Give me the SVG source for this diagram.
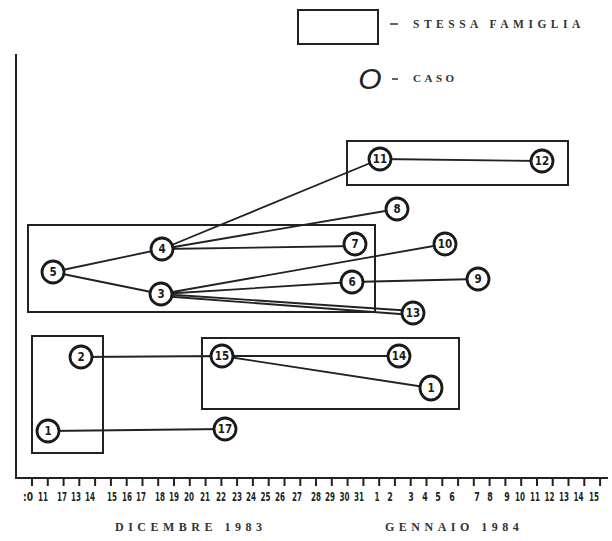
<svg xmlns="http://www.w3.org/2000/svg" width="612" height="541" viewBox="0 0 612 541">
<style>
.ln{stroke:#222;stroke-width:1.8;fill:none}
.box{stroke:#222;stroke-width:2;fill:none}
.ax{stroke:#222;stroke-width:2;fill:none}
.nd ellipse{fill:#fff;stroke:#1a1a1a;stroke-width:2.8}
.nd text{font-family:"DejaVu Sans Condensed","Liberation Sans",sans-serif;font-weight:bold;font-size:11.5px;fill:#1a1a1a;text-anchor:middle}
.tk{font-family:"DejaVu Sans Condensed","Liberation Sans",sans-serif;font-weight:bold;font-size:12px;fill:#222;text-anchor:middle}
.cap{font-family:"Liberation Serif",serif;font-weight:bold;fill:#333}
</style>
<rect width="612" height="541" fill="#fff"/>
<g id="legend">
<rect class="box" x="298" y="10" width="80" height="34"/>
<path d="M390 24H398M392 79H398" stroke="#333" stroke-width="1.5"/>
<text class="cap" x="413" y="28" font-size="11.5" letter-spacing="4.5">STESSA FAMIGLIA</text>
<text x="370" y="89" font-family="Liberation Sans,sans-serif" font-style="italic" font-size="30" fill="#222" text-anchor="middle">O</text>
<text class="cap" x="413" y="82" font-size="11" letter-spacing="3.5">CASO</text>
</g>
<g id="axes">
<path class="ax" d="M16 54V478H608"/>
<path class="ax" d="M32 478v8M47.8 478v8M63.6 478v8M79.3 478v8M95.1 478v8M110.9 478v8M126.7 478v8M142.5 478v8M158.2 478v8M174 478v8M189.8 478v8M205.6 478v8M221.4 478v8M237.1 478v8M252.9 478v8M268.7 478v8M284.5 478v8M300.3 478v8M316 478v8M331.8 478v8M347.6 478v8M363.4 478v8M379.2 478v8M394.9 478v8M410.7 478v8M426.5 478v8M442.3 478v8M458.1 478v8M473.8 478v8M489.6 478v8M505.4 478v8M521.2 478v8M537 478v8M552.7 478v8M568.5 478v8M584.3 478v8M600.1 478v8"/>
<g class="tk">
<text x="28" y="501" textLength="10" lengthAdjust="spacingAndGlyphs">:0</text><text x="43" y="501" textLength="10" lengthAdjust="spacingAndGlyphs">11</text><text x="62" y="501" textLength="10" lengthAdjust="spacingAndGlyphs">17</text><text x="76" y="501" textLength="10" lengthAdjust="spacingAndGlyphs">13</text><text x="90" y="501" textLength="10" lengthAdjust="spacingAndGlyphs">14</text><text x="112" y="501" textLength="10" lengthAdjust="spacingAndGlyphs">15</text><text x="127" y="501" textLength="10" lengthAdjust="spacingAndGlyphs">16</text><text x="141" y="501" textLength="10" lengthAdjust="spacingAndGlyphs">17</text><text x="160" y="501" textLength="10" lengthAdjust="spacingAndGlyphs">18</text><text x="174" y="501" textLength="10" lengthAdjust="spacingAndGlyphs">19</text><text x="189" y="501" textLength="10" lengthAdjust="spacingAndGlyphs">20</text><text x="205" y="501" textLength="10" lengthAdjust="spacingAndGlyphs">21</text><text x="221" y="501" textLength="10" lengthAdjust="spacingAndGlyphs">22</text><text x="237" y="501" textLength="10" lengthAdjust="spacingAndGlyphs">23</text><text x="251" y="501" textLength="10" lengthAdjust="spacingAndGlyphs">24</text><text x="265.5" y="501" textLength="10" lengthAdjust="spacingAndGlyphs">25</text><text x="280" y="501" textLength="10" lengthAdjust="spacingAndGlyphs">26</text><text x="297" y="501" textLength="10" lengthAdjust="spacingAndGlyphs">27</text><text x="316" y="501" textLength="10" lengthAdjust="spacingAndGlyphs">28</text><text x="330" y="501" textLength="10" lengthAdjust="spacingAndGlyphs">29</text><text x="344.5" y="501" textLength="10" lengthAdjust="spacingAndGlyphs">30</text><text x="359" y="501" textLength="10" lengthAdjust="spacingAndGlyphs">31</text><text x="377" y="501" textLength="5" lengthAdjust="spacingAndGlyphs">1</text><text x="390" y="501" textLength="5.5" lengthAdjust="spacingAndGlyphs">2</text><text x="411" y="501" textLength="5.5" lengthAdjust="spacingAndGlyphs">3</text><text x="425" y="501" textLength="5.5" lengthAdjust="spacingAndGlyphs">4</text><text x="438" y="501" textLength="5.5" lengthAdjust="spacingAndGlyphs">5</text><text x="452" y="501" textLength="5.5" lengthAdjust="spacingAndGlyphs">6</text><text x="477" y="501" textLength="5.5" lengthAdjust="spacingAndGlyphs">7</text><text x="490" y="501" textLength="5.5" lengthAdjust="spacingAndGlyphs">8</text><text x="507" y="501" textLength="5.5" lengthAdjust="spacingAndGlyphs">9</text><text x="520" y="501" textLength="10" lengthAdjust="spacingAndGlyphs">10</text><text x="535" y="501" textLength="10" lengthAdjust="spacingAndGlyphs">11</text><text x="549.5" y="501" textLength="10" lengthAdjust="spacingAndGlyphs">12</text><text x="564" y="501" textLength="10" lengthAdjust="spacingAndGlyphs">13</text><text x="578.5" y="501" textLength="10" lengthAdjust="spacingAndGlyphs">14</text><text x="594" y="501" textLength="10" lengthAdjust="spacingAndGlyphs">15</text>
</g>
<text class="cap" x="115" y="531" font-size="12" letter-spacing="4.5">DICEMBRE 1983</text>
<text class="cap" x="385" y="531" font-size="12" letter-spacing="4.5">GENNAIO 1984</text>
</g>
<g id="families">
<rect class="box" x="347" y="141" width="221" height="44"/>
<rect class="box" x="28" y="225" width="347" height="87"/>
<rect class="box" x="32" y="336" width="71" height="117"/>
<rect class="box" x="202" y="338" width="257" height="71"/>
</g>
<g id="connectors">
<path class="ln" d="M53 272L162 249M53 272L161 294"/>
<path class="ln" d="M162 249L380 159M162 249L397 209M162 249L355 246"/>
<path class="ln" d="M161 294L445 244M161 294L352 282M161 294L413 311M161 296L413 315"/>
<path class="ln" d="M380 159L542 161M352 282L478 279"/>
<path class="ln" d="M81 357L222 356M222 356L399 356M222 356L431 388M48 431L225 429"/>
</g>
<g id="n5" class="nd"><ellipse cx="53" cy="272" rx="11" ry="11"/><text x="53" y="276">5</text></g>
<g id="n4" class="nd"><ellipse cx="162" cy="249" rx="11" ry="11"/><text x="162" y="253">4</text></g>
<g id="n3" class="nd"><ellipse cx="161" cy="294" rx="11" ry="11"/><text x="161" y="298">3</text></g>
<g id="n11" class="nd"><ellipse cx="380" cy="159" rx="11" ry="11"/><text x="380" y="163">11</text></g>
<g id="n12" class="nd"><ellipse cx="542" cy="161" rx="11" ry="11"/><text x="542" y="165">12</text></g>
<g id="n8" class="nd"><ellipse cx="397" cy="209" rx="11" ry="11"/><text x="397" y="213">8</text></g>
<g id="n7" class="nd"><ellipse cx="355" cy="244" rx="11" ry="11"/><text x="355" y="248">7</text></g>
<g id="n10" class="nd"><ellipse cx="445" cy="244" rx="11" ry="11"/><text x="445" y="248">10</text></g>
<g id="n6" class="nd"><ellipse cx="352" cy="282" rx="11" ry="11"/><text x="352" y="286">6</text></g>
<g id="n9" class="nd"><ellipse cx="478" cy="279" rx="11" ry="11"/><text x="478" y="283">9</text></g>
<g id="n13" class="nd"><ellipse cx="413" cy="313" rx="11" ry="11"/><text x="413" y="317">13</text></g>
<g id="n2" class="nd"><ellipse cx="81" cy="357" rx="11" ry="11"/><text x="81" y="361">2</text></g>
<g id="n15" class="nd"><ellipse cx="222" cy="356" rx="11" ry="11"/><text x="222" y="360">15</text></g>
<g id="n14" class="nd"><ellipse cx="399" cy="356" rx="11" ry="11"/><text x="399" y="360">14</text></g>
<g id="n16" class="nd"><ellipse cx="431" cy="388" rx="11" ry="12"/><text x="431" y="392">1</text></g>
<g id="n1" class="nd"><ellipse cx="48" cy="431" rx="11" ry="11"/><text x="48" y="435">1</text></g>
<g id="n17" class="nd"><ellipse cx="225" cy="429" rx="11" ry="11"/><text x="225" y="433">17</text></g>
</svg>
